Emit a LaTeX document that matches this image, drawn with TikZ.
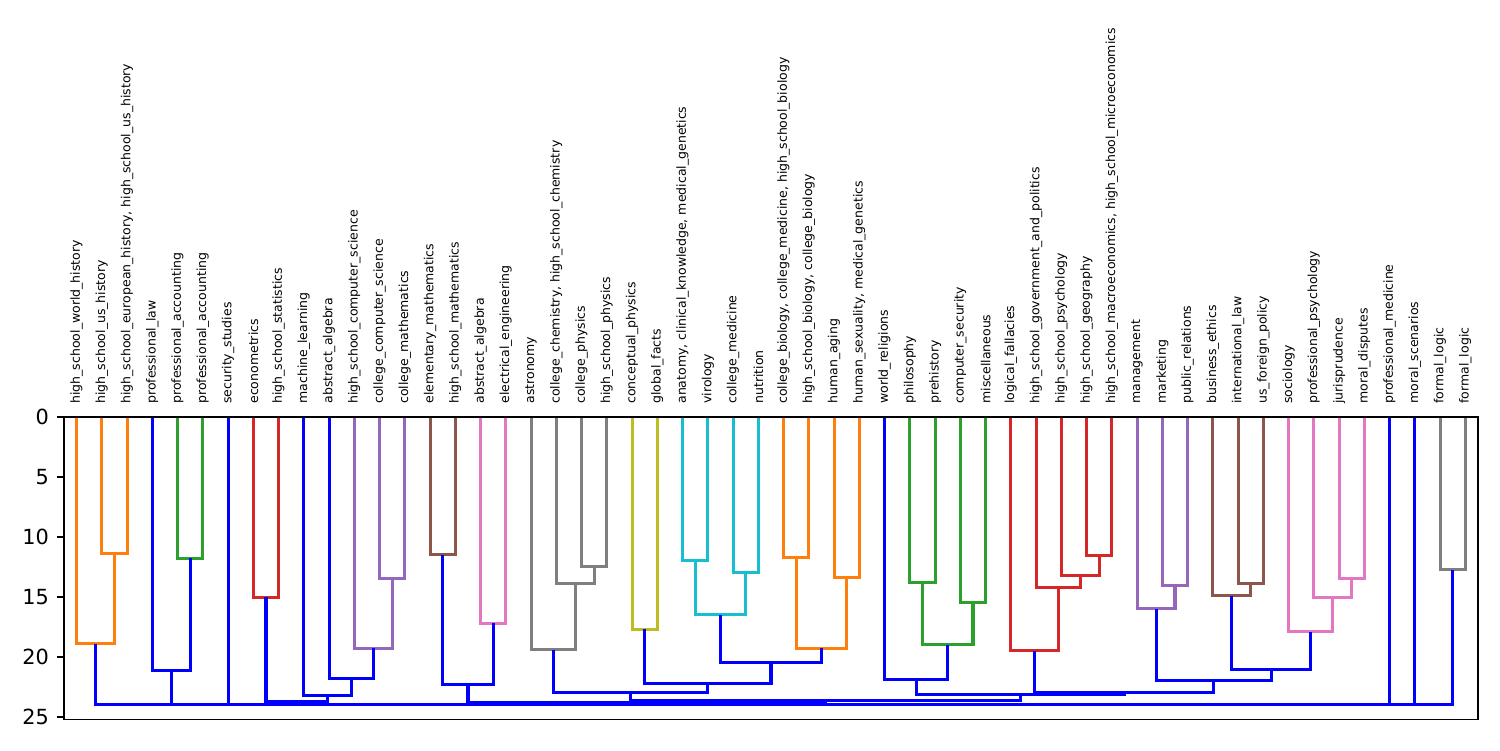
\documentclass[tikz,border=0pt]{standalone}
\usepackage{fontspec}
\setmainfont{DejaVu Sans}
\definecolor{orng}{HTML}{FF7F0E}
\definecolor{grn}{HTML}{2CA02C}
\definecolor{rd}{HTML}{D62728}
\definecolor{prp}{HTML}{9467BD}
\definecolor{brn}{HTML}{8C564B}
\definecolor{pnk}{HTML}{E377C2}
\definecolor{gry}{HTML}{7F7F7F}
\definecolor{olv}{HTML}{BCBD22}
\definecolor{cyn}{HTML}{17BECF}
\definecolor{blu}{HTML}{0000FF}
\newcommand\dlk[6]{\draw[dl,#6] ({px(#1)},{py(#2)}) -- ({px(#1)},{py(#5)}) -- ({px(#3)},{py(#5)}) -- ({px(#3)},{py(#4)});}
\newcommand\lab[2]{\node[leaf] (l#1) at ({px(10*#1-5)},404) {#2};}
\newcommand\ytk[1]{\draw[line width=0.8bp] (56.7,{py(#1)}) -- (64,{py(#1)}); \node[ytick] (t#1) at (49.3,{py(#1)}) {#1};}
\begin{document}
\begin{tikzpicture}[x=0.48bp,y=-0.48bp,
  declare function={px(\u)=64+2.525*\u; py(\h)=416.7+12*\h;},
  dl/.style={line width=1.5bp, line join=miter, line cap=butt},
  leaf/.style={rotate=90, anchor=west, inner sep=0pt, font=\fontsize{6bp}{7bp}\selectfont},
  ytick/.style={anchor=east, inner sep=0pt, font=\fontsize{10bp}{12bp}\selectfont}]
\useasboundingbox (0,0) rectangle (1500,750);
% dendrogram links
\dlk{15}{0}{25}{0}{11.4}{orng}
\dlk{5}{0}{20}{11.4}{18.9}{orng}
\dlk{45}{0}{55}{0}{11.8}{grn}
\dlk{35}{0}{50}{11.8}{21.15}{blu}
\dlk{75}{0}{85}{0}{15.05}{rd}
\dlk{125}{0}{135}{0}{13.5}{prp}
\dlk{115}{0}{130}{13.5}{19.3}{prp}
\dlk{105}{0}{122.5}{19.3}{21.8}{blu}
\dlk{95}{0}{113.75}{21.8}{23.2}{blu}
\dlk{80}{15.05}{104.375}{23.2}{23.72}{blu}
\dlk{145}{0}{155}{0}{11.5}{brn}
\dlk{165}{0}{175}{0}{17.2}{pnk}
\dlk{150}{11.5}{170}{17.2}{22.3}{blu}
\dlk{205}{0}{215}{0}{12.5}{gry}
\dlk{195}{0}{210}{12.5}{13.9}{gry}
\dlk{185}{0}{202.5}{13.9}{19.4}{gry}
\dlk{225}{0}{235}{0}{17.7}{olv}
\dlk{245}{0}{255}{0}{12.0}{cyn}
\dlk{265}{0}{275}{0}{13.0}{cyn}
\dlk{250}{12}{270}{13}{16.5}{cyn}
\dlk{285}{0}{295}{0}{11.7}{orng}
\dlk{305}{0}{315}{0}{13.4}{orng}
\dlk{290}{11.7}{310}{13.4}{19.3}{orng}
\dlk{260}{16.5}{300}{19.3}{20.45}{blu}
\dlk{230}{17.7}{280}{20.45}{22.2}{blu}
\dlk{193.75}{19.4}{255}{22.2}{23.0}{blu}
\dlk{335}{0}{345}{0}{13.8}{grn}
\dlk{355}{0}{365}{0}{15.5}{grn}
\dlk{340}{13.8}{360}{15.5}{19.0}{grn}
\dlk{325}{0}{350}{19.0}{21.9}{blu}
\dlk{405}{0}{415}{0}{11.6}{rd}
\dlk{395}{0}{410}{11.6}{13.25}{rd}
\dlk{385}{0}{402.5}{13.25}{14.2}{rd}
\dlk{375}{0}{393.75}{14.2}{19.5}{rd}
\dlk{435}{0}{445}{0}{14.1}{prp}
\dlk{425}{0}{440}{14.1}{16.0}{prp}
\dlk{465}{0}{475}{0}{13.9}{brn}
\dlk{455}{0}{470}{13.9}{14.9}{brn}
\dlk{505}{0}{515}{0}{13.5}{pnk}
\dlk{495}{0}{510}{13.5}{15.05}{pnk}
\dlk{485}{0}{502.5}{15.05}{17.9}{pnk}
\dlk{462.5}{14.9}{493.75}{17.9}{21.05}{blu}
\dlk{432.5}{16.0}{478.125}{21.05}{22.0}{blu}
\dlk{384.375}{19.5}{455.3125}{22.0}{22.97}{blu}
\dlk{337.5}{21.9}{419.84}{22.97}{23.12}{blu}
\dlk{224.375}{23.0}{378.67}{23.12}{23.62}{blu}
\dlk{160}{22.3}{301.52}{23.62}{23.86}{blu}
\dlk{545}{0}{555}{0}{12.75}{gry}
\dlk{525}{0}{535}{0}{24.0}{blu}
\dlk{530}{24.0}{550}{12.75}{24.0}{blu}
\dlk{12.5}{18.9}{42.5}{21.15}{24.0}{blu}
\dlk{27.5}{24.0}{65}{0}{24.0}{blu}
\dlk{46.25}{24}{92.1875}{23.72}{24.0}{blu}
\dlk{69.22}{24}{230.76}{23.86}{24.0}{blu}
\dlk{149.99}{24.0}{540}{24.0}{24.0}{blu}
% axes frame
\draw[line width=0.8bp] ({px(0)},{py(0)}) rectangle ({px(560)},{py(25.23)});
\ytk{0}\ytk{5}\ytk{10}\ytk{15}\ytk{20}\ytk{25}
% leaf labels
\lab{1}{high\_school\_world\_history}
\lab{2}{high\_school\_us\_history}
\lab{3}{high\_school\_european\_history, high\_school\_us\_history}
\lab{4}{professional\_law}
\lab{5}{professional\_accounting}
\lab{6}{professional\_accounting}
\lab{7}{security\_studies}
\lab{8}{econometrics}
\lab{9}{high\_school\_statistics}
\lab{10}{machine\_learning}
\lab{11}{abstract\_algebra}
\lab{12}{high\_school\_computer\_science}
\lab{13}{college\_computer\_science}
\lab{14}{college\_mathematics}
\lab{15}{elementary\_mathematics}
\lab{16}{high\_school\_mathematics}
\lab{17}{abstract\_algebra}
\lab{18}{electrical\_engineering}
\lab{19}{astronomy}
\lab{20}{college\_chemistry, high\_school\_chemistry}
\lab{21}{college\_physics}
\lab{22}{high\_school\_physics}
\lab{23}{conceptual\_physics}
\lab{24}{global\_facts}
\lab{25}{anatomy, clinical\_knowledge, medical\_genetics}
\lab{26}{virology}
\lab{27}{college\_medicine}
\lab{28}{nutrition}
\lab{29}{college\_biology, college\_medicine, high\_school\_biology}
\lab{30}{high\_school\_biology, college\_biology}
\lab{31}{human\_aging}
\lab{32}{human\_sexuality, medical\_genetics}
\lab{33}{world\_religions}
\lab{34}{philosophy}
\lab{35}{prehistory}
\lab{36}{computer\_security}
\lab{37}{miscellaneous}
\lab{38}{logical\_fallacies}
\lab{39}{high\_school\_government\_and\_politics}
\lab{40}{high\_school\_psychology}
\lab{41}{high\_school\_geography}
\lab{42}{high\_school\_macroeconomics, high\_school\_microeconomics}
\lab{43}{management}
\lab{44}{marketing}
\lab{45}{public\_relations}
\lab{46}{business\_ethics}
\lab{47}{international\_law}
\lab{48}{us\_foreign\_policy}
\lab{49}{sociology}
\lab{50}{professional\_psychology}
\lab{51}{jurisprudence}
\lab{52}{moral\_disputes}
\lab{53}{professional\_medicine}
\lab{54}{moral\_scenarios}
\lab{55}{formal\_logic}
\lab{56}{formal\_logic}
\end{tikzpicture}
\end{document}
